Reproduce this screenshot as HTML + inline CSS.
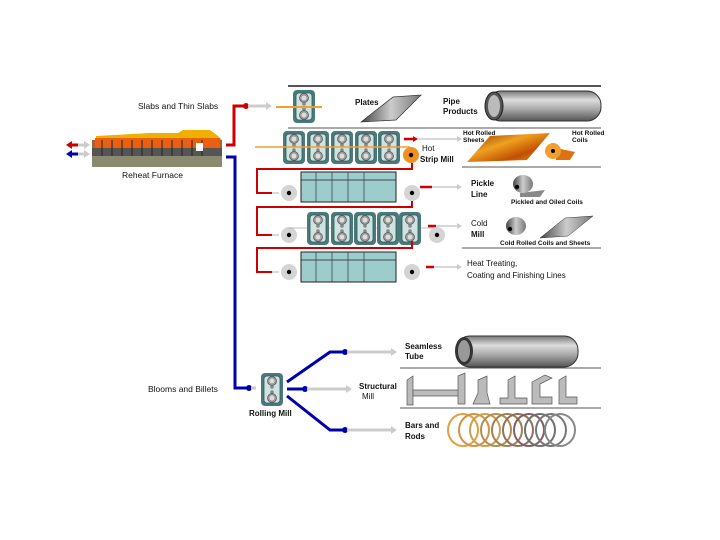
<!DOCTYPE html>
<html><head><style>
html,body{margin:0;padding:0;background:#fff;}
svg{display:block;}
text{font-family:"Liberation Sans",Arial,sans-serif;font-size:8px;fill:#111;}
.b{font-weight:bold;}
</style></head><body>
<svg width="720" height="540" viewBox="0 0 720 540" xmlns="http://www.w3.org/2000/svg">
<defs>
<g id="stand">
 <rect x="0" y="0" width="22" height="33" rx="4" fill="#4a7a7a"/>
 <rect x="3" y="3" width="16" height="27" rx="3" fill="#cfe3e3" stroke="#2f5a5a" stroke-width="0.8"/>
 <circle cx="11" cy="8" r="4.5" fill="#999" stroke="#555" stroke-width="0.7"/>
 <circle cx="11" cy="8" r="2.5" fill="#ddd"/>
 <circle cx="11" cy="14" r="1.8" fill="#888"/>
 <circle cx="11" cy="19" r="1.8" fill="#888"/>
 <circle cx="11" cy="25" r="4.5" fill="#999" stroke="#555" stroke-width="0.7"/>
 <circle cx="11" cy="25" r="2.5" fill="#ddd"/>
</g>
<g id="roll">
 <circle cx="0" cy="0" r="8" fill="#d4d4d4"/>
 <circle cx="0" cy="0" r="2.2" fill="#000"/>
</g>
<g id="tank">
 <rect x="0" y="0" width="95" height="30" fill="#9ccccc" stroke="#222" stroke-width="1"/>
 <line x1="0" y1="8" x2="95" y2="8" stroke="#222" stroke-width="0.8"/>
 <line x1="15" y1="0" x2="15" y2="30" stroke="#222" stroke-width="0.6"/>
 <line x1="31" y1="0" x2="31" y2="30" stroke="#222" stroke-width="0.6"/>
 <line x1="47" y1="0" x2="47" y2="30" stroke="#222" stroke-width="0.6"/>
 <line x1="63" y1="0" x2="63" y2="30" stroke="#222" stroke-width="0.6"/>
</g>
<linearGradient id="pipe" x1="0" y1="0" x2="0" y2="1">
 <stop offset="0" stop-color="#777"/><stop offset="0.3" stop-color="#ddd"/><stop offset="0.6" stop-color="#aaa"/><stop offset="1" stop-color="#555"/>
</linearGradient>
<linearGradient id="hot" x1="0" y1="0" x2="1" y2="1">
 <stop offset="0" stop-color="#8a3000"/><stop offset="0.4" stop-color="#f0a020"/><stop offset="0.7" stop-color="#c05000"/><stop offset="1" stop-color="#f0a030"/>
</linearGradient>
<linearGradient id="steel" x1="0" y1="0" x2="1" y2="0">
 <stop offset="0" stop-color="#444"/><stop offset="0.5" stop-color="#ccc"/><stop offset="1" stop-color="#777"/>
</linearGradient>
</defs>

<!-- separators -->
<line x1="288" y1="86" x2="601" y2="86" stroke="#555" stroke-width="2"/>
<line x1="288" y1="128" x2="601" y2="128" stroke="#555" stroke-width="1"/>
<line x1="462" y1="167" x2="601" y2="167" stroke="#555" stroke-width="1"/>
<line x1="462" y1="248" x2="601" y2="248" stroke="#555" stroke-width="1"/>
<line x1="400" y1="368" x2="601" y2="368" stroke="#555" stroke-width="1"/>
<line x1="400" y1="408" x2="601" y2="408" stroke="#555" stroke-width="1"/>

<!-- furnace -->
<rect x="92" y="140" width="130" height="22" fill="#b06030"/>
<path d="M96 140 L96 136 L150 133 L178 133 L183 130 L210 130 L218 136 L222 140 Z" fill="#f0b000"/>
<rect x="95" y="138" width="125" height="10" fill="#e86010"/>
<rect x="92" y="148" width="130" height="8" fill="#555"/>
<g stroke="#222" stroke-width="1">
<line x1="102" y1="140" x2="102" y2="156"/><line x1="112" y1="140" x2="112" y2="156"/><line x1="122" y1="140" x2="122" y2="156"/><line x1="132" y1="140" x2="132" y2="156"/><line x1="142" y1="140" x2="142" y2="156"/><line x1="152" y1="140" x2="152" y2="156"/><line x1="162" y1="140" x2="162" y2="156"/><line x1="172" y1="140" x2="172" y2="156"/><line x1="182" y1="140" x2="182" y2="156"/><line x1="192" y1="140" x2="192" y2="156"/><line x1="202" y1="140" x2="202" y2="156"/>
</g>
<rect x="196" y="143" width="7" height="8" fill="#fff"/>
<rect x="92" y="156" width="130" height="11" fill="#8a8a70"/>
<text x="122" y="178" style="font-size:8.5px">Reheat Furnace</text>
<!-- furnace input arrows -->
<line x1="70" y1="145" x2="78" y2="145" stroke="#c00" stroke-width="3"/><path d="M66 145 L72 141 L72 149Z" fill="#c00"/>
<line x1="78" y1="145" x2="86" y2="145" stroke="#ccc" stroke-width="3"/><path d="M84 141 L90 145 L84 149Z" fill="#ccc"/>
<line x1="70" y1="154" x2="78" y2="154" stroke="#00a" stroke-width="3"/><path d="M66 154 L72 150 L72 158Z" fill="#00a"/>
<line x1="78" y1="154" x2="86" y2="154" stroke="#ccc" stroke-width="3"/><path d="M84 150 L90 154 L84 158Z" fill="#ccc"/>

<!-- slabs line -->
<text x="138" y="109" style="font-size:8.5px">Slabs and Thin Slabs</text>
<path d="M226 145 L234 145 L234 106 L244 106" fill="none" stroke="#c00" stroke-width="3"/>
<circle cx="246" cy="106" r="3" fill="#c00"/>
<line x1="248" y1="106" x2="268" y2="106" stroke="#ccc" stroke-width="3"/><path d="M266 102 L272 106 L266 110Z" fill="#ccc"/>
<use href="#stand" x="293" y="90"/>
<line x1="276" y1="107" x2="322" y2="107" stroke="#f0a030" stroke-width="2"/>
<text x="355" y="105" class="b">Plates</text>
<path d="M361 122 L393 97 L421 95 L396 120 Z" fill="url(#steel)" stroke="#333" stroke-width="0.7"/>
<text x="443" y="104" class="b">Pipe</text><text x="443" y="114" class="b">Products</text>
<rect x="487" y="91" width="114" height="30" rx="14" fill="url(#pipe)" stroke="#333"/>
<ellipse cx="494" cy="106" rx="9" ry="14" fill="#555" stroke="#222"/>
<ellipse cx="494" cy="106" rx="6" ry="11" fill="#bbb"/>

<!-- blue line -->
<path d="M226 157 L235 157 L235 388 L248 388" fill="none" stroke="#00a" stroke-width="3"/>
<circle cx="249" cy="388" r="3" fill="#00a"/>

<!-- hot strip mill -->
<use href="#stand" x="283" y="131"/><use href="#stand" x="307" y="131"/><use href="#stand" x="331" y="131"/><use href="#stand" x="355" y="131"/><use href="#stand" x="378" y="131"/>
<line x1="255" y1="147" x2="410" y2="147" stroke="#f0a030" stroke-width="1.5"/>
<circle cx="411" cy="155" r="8" fill="#f09020"/><circle cx="411" cy="155" r="2.2" fill="#000"/>
<line x1="404" y1="139" x2="414" y2="139" stroke="#c00" stroke-width="2.5"/><path d="M413 136 L418 139 L413 142Z" fill="#c00"/>
<line x1="418" y1="139" x2="458" y2="139" stroke="#ccc" stroke-width="1.5"/><path d="M457 136 L462 139 L457 142Z" fill="#ccc"/>
<text x="422" y="151">Hot</text><text x="420" y="162" class="b">Strip Mill</text>
<text x="463" y="135" style="font-size:6.5px" class="b">Hot Rolled</text><text x="463" y="142" style="font-size:6.5px" class="b">Sheets</text>
<path d="M467 162 L490 136 L550 133 L527 160 Z" fill="url(#hot)"/>
<text x="572" y="135" style="font-size:6.5px" class="b">Hot Rolled</text><text x="572" y="142" style="font-size:6.5px" class="b">Coils</text>
<path d="M556 148 L575 152 L570 160 L556 160Z" fill="#e07010"/>
<circle cx="553" cy="151" r="8" fill="#f0a030"/><circle cx="553" cy="151" r="2" fill="#000"/>

<!-- red path to pickle -->
<path d="M412 163 L412 169 L257 169 L257 193 L272 193" fill="none" stroke="#c00" stroke-width="2"/>
<line x1="272" y1="193" x2="279" y2="193" stroke="#ccc" stroke-width="1.5"/>
<use href="#roll" x="289" y="193"/><use href="#tank" x="301" y="172"/><use href="#roll" x="412" y="193"/>
<line x1="420" y1="187" x2="432" y2="187" stroke="#c00" stroke-width="2.5"/>
<line x1="432" y1="187" x2="458" y2="187" stroke="#ccc" stroke-width="1.5"/><path d="M457 184 L462 187 L457 190Z" fill="#ccc"/>
<text x="471" y="186" class="b">Pickle</text><text x="471" y="197" class="b">Line</text>
<path d="M520 193 L545 190 L540 197 L520 197Z" fill="#888"/>
<ellipse cx="523" cy="184" rx="10" ry="9" fill="url(#steel)"/><circle cx="517" cy="187" r="2.2" fill="#000"/>
<text x="511" y="204" style="font-size:6.5px" class="b">Pickled and Oiled Coils</text>

<!-- cold mill -->
<path d="M412 201 L412 207 L257 207 L257 235 L272 235" fill="none" stroke="#c00" stroke-width="2"/>
<line x1="272" y1="235" x2="279" y2="235" stroke="#ccc" stroke-width="1.5"/>
<use href="#roll" x="289" y="235"/>
<line x1="289" y1="228" x2="437" y2="228" stroke="#aaa" stroke-width="0.8"/>
<use href="#stand" x="307" y="212"/><use href="#stand" x="331" y="212"/><use href="#stand" x="354" y="212"/><use href="#stand" x="377" y="212"/><use href="#stand" x="399" y="212"/>
<use href="#roll" x="437" y="235"/>
<line x1="428" y1="226" x2="436" y2="226" stroke="#c00" stroke-width="2.5"/>
<line x1="436" y1="226" x2="458" y2="226" stroke="#ccc" stroke-width="1.5"/><path d="M457 223 L462 226 L457 229Z" fill="#ccc"/>
<text x="471" y="226">Cold</text><text x="471" y="237" class="b">Mill</text>
<ellipse cx="516" cy="226" rx="10" ry="9" fill="url(#steel)"/><circle cx="510" cy="229" r="2.2" fill="#000"/>
<path d="M540 238 L565 218 L593 216 L568 236 Z" fill="url(#steel)" stroke="#333" stroke-width="0.5"/>
<text x="500" y="245" style="font-size:6.5px" class="b">Cold Rolled Coils and Sheets</text>

<!-- heat treating -->
<path d="M412 241 L412 248 L257 248 L257 272 L272 272" fill="none" stroke="#c00" stroke-width="2"/>
<line x1="272" y1="272" x2="279" y2="272" stroke="#ccc" stroke-width="1.5"/>
<use href="#roll" x="289" y="272"/><use href="#tank" x="301" y="252"/><use href="#roll" x="412" y="272"/>
<line x1="426" y1="267" x2="434" y2="267" stroke="#c00" stroke-width="2.5"/>
<line x1="434" y1="267" x2="458" y2="267" stroke="#ccc" stroke-width="1.5"/><path d="M457 264 L462 267 L457 270Z" fill="#ccc"/>
<text x="467" y="266">Heat Treating,</text><text x="467" y="278">Coating and Finishing Lines</text>

<!-- blooms -->
<text x="148" y="392" style="font-size:8.5px">Blooms and Billets</text>
<line x1="251" y1="388" x2="256" y2="388" stroke="#ccc" stroke-width="3"/>
<use href="#stand" x="261" y="373"/>
<text x="249" y="416" class="b">Rolling Mill</text>
<path d="M287 382 L330 352 L343 352" fill="none" stroke="#00a" stroke-width="3"/><circle cx="345" cy="352" r="3" fill="#00a"/>
<path d="M287 389 L303 389" fill="none" stroke="#00a" stroke-width="3"/><circle cx="305" cy="389" r="3" fill="#00a"/>
<path d="M287 396 L330 430 L343 430" fill="none" stroke="#00a" stroke-width="3"/><circle cx="345" cy="430" r="3" fill="#00a"/>
<line x1="347" y1="352" x2="392" y2="352" stroke="#ccc" stroke-width="3"/><path d="M391 348 L397 352 L391 356Z" fill="#ccc"/>
<line x1="307" y1="389" x2="347" y2="389" stroke="#ccc" stroke-width="3"/><path d="M346 385 L352 389 L346 393Z" fill="#ccc"/>
<line x1="347" y1="430" x2="392" y2="430" stroke="#ccc" stroke-width="3"/><path d="M391 426 L397 430 L391 434Z" fill="#ccc"/>
<text x="405" y="349" class="b">Seamless</text><text x="405" y="359" class="b">Tube</text>
<rect x="456" y="336" width="122" height="31" rx="14" fill="url(#pipe)" stroke="#333"/>
<ellipse cx="464" cy="351" rx="9" ry="14" fill="#333"/><ellipse cx="464" cy="351" rx="6" ry="11" fill="#999"/>
<text x="359" y="389" class="b">Structural</text><text x="362" y="399">Mill</text>
<g fill="#bbb" stroke="#555" stroke-width="0.7">
<path d="M407 380 L413 376 L413 405 L407 405Z"/><path d="M413 390 L460 390 L460 396 L413 396Z"/><path d="M458 376 L465 373 L465 404 L458 404Z"/>
<path d="M478 380 L487 376 L487 393 L490 404 L473 404 L478 393Z"/>
<path d="M508 380 L515 376 L515 398 L527 398 L527 404 L500 404 L500 398 L508 398Z"/>
<path d="M532 382 L545 375 L552 378 L540 384 L540 397 L552 397 L552 404 L532 404Z"/>
<path d="M559 380 L566 376 L566 397 L577 397 L577 404 L559 404Z"/>
</g>
<text x="405" y="428" class="b">Bars and</text><text x="405" y="439" class="b">Rods</text>
<g fill="none" stroke-width="2">
<ellipse cx="463" cy="430" rx="15" ry="16" stroke="#e0a040"/><ellipse cx="474" cy="430" rx="15" ry="16" stroke="#d89040"/><ellipse cx="485" cy="430" rx="15" ry="16" stroke="#c8a050"/><ellipse cx="496" cy="430" rx="15" ry="16" stroke="#b09050"/><ellipse cx="507" cy="430" rx="15" ry="16" stroke="#a08050"/><ellipse cx="518" cy="430" rx="15" ry="16" stroke="#907060"/><ellipse cx="529" cy="430" rx="15" ry="16" stroke="#806060"/><ellipse cx="540" cy="430" rx="15" ry="16" stroke="#707070"/><ellipse cx="551" cy="430" rx="15" ry="16" stroke="#777"/><ellipse cx="560" cy="430" rx="15" ry="16" stroke="#888"/>
</g>
</svg>
</body></html>
